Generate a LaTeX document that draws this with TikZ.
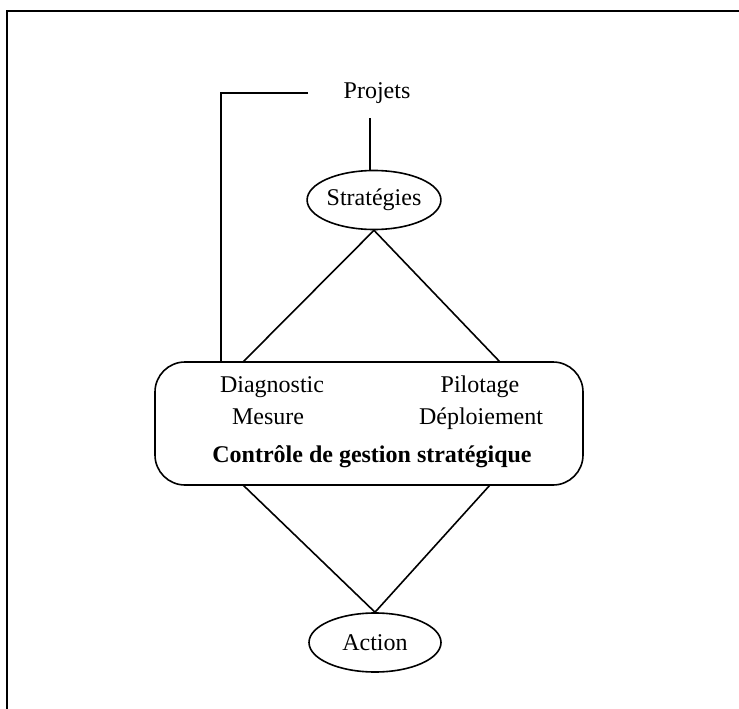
\documentclass[tikz,border=0pt]{standalone}
\usepackage{fontspec}
\setmainfont{Liberation Serif}
\usetikzlibrary{shapes.geometric}
\begin{document}
\begin{tikzpicture}[x=1pt,y=-1pt,
  line width=1.6pt,
  txt/.style={font=\fontsize{24}{28}\selectfont},
  lbl/.style={txt, inner sep=0pt, anchor=base},
  oval/.style={draw, ellipse, minimum width=132pt, minimum height=59pt, inner sep=0pt, txt},
  bigbox/.style={draw, rounded corners=30pt, minimum width=428pt, minimum height=123pt, inner sep=0pt}
]
\useasboundingbox (0,0) rectangle (739,709);
% frame (top and left only)
\draw[line width=1.2pt] (739,11) -- (7,11) -- (7,709);

\node[lbl] (proj) at (377,98) {Projets};
\node[oval] (strat) at (374,200) {Stratégies};
\node[bigbox] (box) at (369,423.5) {};
\node[oval] (act) at (375,642.5) {Action};

\node[lbl] (diag) at (272,392) {Diagnostic};
\node[lbl] (mes) at (268,424) {Mesure};
\node[lbl] (pil) at (480,392) {Pilotage};
\node[lbl] (dep) at (481,424) {Déploiement};
\node[lbl, font=\fontsize{24}{28}\selectfont\bfseries] (cgs) at (372,462) {Contrôle de gestion stratégique};

% coordinates on the box border
\coordinate (tl) at (243,362);
\coordinate (tr) at (500,362);
\coordinate (bl) at (243,485);
\coordinate (br) at (490,485);
\coordinate (fb) at (221,362);
\coordinate (pj) at (370,118);
\coordinate (bk) at (308,93);

% Projets -> Stratégies
\draw (pj) -- (pj |- strat.north);
% bracket from Projets to box
\draw (bk) -- (fb |- bk) -- (fb);
% upper diamond
\draw (tl) -- (strat.south) -- (tr);
% lower diamond
\draw (bl) -- (act.north) -- (br);
\end{tikzpicture}
\end{document}
